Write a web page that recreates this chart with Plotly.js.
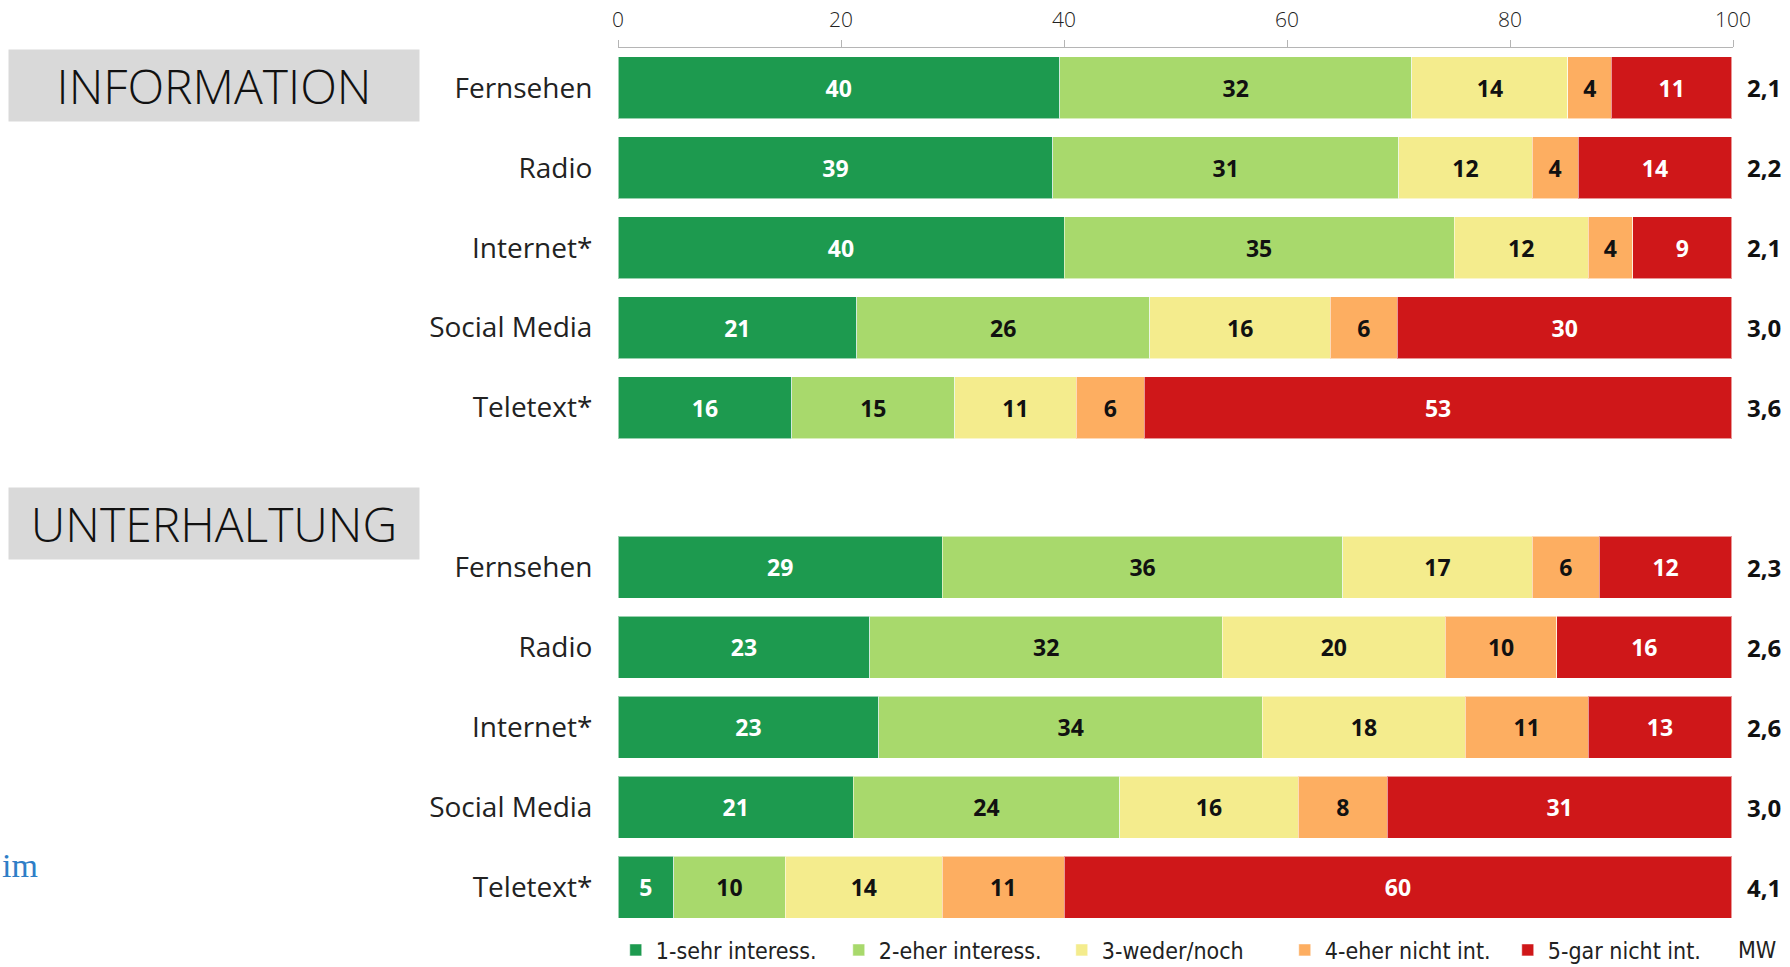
<!DOCTYPE html>
<html>
<head>
<meta charset="utf-8">
<script src="https://cdn.plot.ly/plotly-3.0.1.min.js"></script>
<style>html,body{margin:0;padding:0;background:#fff;}#chart{width:1790px;height:967px;}</style>
</head>
<body>
<div id="chart"></div>
<script>
// Categories (same five media in both sections)
const media = ["Fernsehen", "Radio", "Internet*", "Social Media", "Teletext*"];
const sections = ["INFORMATION", "UNTERHALTUNG"];
const seriesNames = ["1-sehr interess.", "2-eher interess.", "3-weder/noch", "4-eher nicht int.", "5-gar nicht int."];
const seriesColors = ["#1d9a4f", "#a8d96c", "#f4ec8d", "#fdae61", "#cf1719"];
const textColors = ["#ffffff", "#111111", "#111111", "#111111", "#ffffff"];

// INFORMATION shares (%)
const info1 = [39.6, 39.0, 40.0, 21.4, 15.6];
const info2 = [31.6, 31.0, 35.0, 26.3, 14.6];
const info3 = [14.0, 12.0, 12.0, 16.2, 10.9];
const info4 = [3.9, 4.1, 4.0, 6.0, 6.1];
const info5 = [10.8, 13.8, 8.9, 30.0, 52.7];
const infoMW = ["2,1", "2,2", "2,1", "3,0", "3,6"];

// UNTERHALTUNG shares (%)
const unt1 = [29.1, 22.6, 23.4, 21.1, 5.0];
const unt2 = [35.9, 31.6, 34.4, 23.9, 10.0];
const unt3 = [17.0, 20.0, 18.2, 16.0, 14.1];
const unt4 = [6.0, 10.0, 11.0, 8.0, 10.9];
const unt5 = [11.9, 15.7, 12.9, 30.9, 59.9];
const untMW = ["2,3", "2,6", "2,6", "3,0", "4,1"];

const xTicks = [0, 20, 40, 60, 80, 100];

const infoSeries = [info1, info2, info3, info4, info5];
const untSeries = [unt1, unt2, unt3, unt4, unt5];

const traces = [];
function addSection(series, yaxis, showLegend) {
  series.forEach((vals, i) => {
    traces.push({
      type: "bar",
      orientation: "h",
      x: vals,
      y: media,
      yaxis: yaxis,
      xaxis: "x",
      name: seriesNames[i],
      legendgroup: "s" + i,
      showlegend: showLegend,
      marker: { color: seriesColors[i], line: { color: "rgba(255,255,255,0.55)", width: 1 } },
      texttemplate: "%{x:.0f}",
      textposition: "inside",
      insidetextanchor: "middle",
      textangle: 0,
      constraintext: "none",
      textfont: { family: "Open Sans, sans-serif", size: 23, color: textColors[i], weight: 700 },
      hoverinfo: "skip",
      cliponaxis: false
    });
  });
}
addSection(infoSeries, "y", true);
addSection(untSeries, "y2", false);

const annotations = [];
media.forEach((m, i) => {
  annotations.push({ xref: "paper", yref: "y", x: 1, xshift: 12, y: m, xanchor: "left", yanchor: "middle",
    text: infoMW[i], showarrow: false, font: { family: "Open Sans, sans-serif", size: 24, color: "#111", weight: 700 } });
  annotations.push({ xref: "paper", yref: "y2", x: 1, xshift: 12, y: m, xanchor: "left", yanchor: "middle",
    text: untMW[i], showarrow: false, font: { family: "Open Sans, sans-serif", size: 24, color: "#111", weight: 700 } });
});
// section headers
const headerY = [0.9573, 0.4596];
sections.forEach((s, i) => {
  annotations.push({ xref: "paper", yref: "paper", x: -0.547, y: headerY[i], xanchor: "left", yanchor: "middle",
    width: 410, height: 71, bgcolor: "#d9d9d9", borderpad: 0, align: "center", valign: "middle",
    text: s, showarrow: false, font: { family: "Open Sans, sans-serif", size: 48, color: "#111", weight: 300 } });
});
annotations.push({ xref: "paper", yref: "paper", x: 1.0027, y: -0.0262, xanchor: "left", yanchor: "middle",
  text: "MW", showarrow: false, font: { family: "Liberation Sans Narrow, DejaVu Sans Condensed, sans-serif", size: 23, color: "#222" } });
annotations.push({ xref: "paper", yref: "paper", x: -0.554, y: 0.0694, xanchor: "left", yanchor: "middle",
  text: "im", showarrow: false, font: { family: "Liberation Serif, DejaVu Serif, serif", size: 34, color: "#2e7ec7" } });

const layout = {
  width: 1790, height: 967,
  margin: { l: 618, r: 57, t: 48, b: 40, pad: 0, autoexpand: false },
  paper_bgcolor: "#ffffff", plot_bgcolor: "#ffffff",
  barmode: "stack",
  bargap: 0.225,
  showlegend: true,
  legend: {
    orientation: "h", xref: "container", yref: "container", x: 0.344, xanchor: "left", y: 0.0176, yanchor: "middle",
    font: { family: "Liberation Sans Narrow, DejaVu Sans Condensed, sans-serif", size: 23, color: "#222" },
    traceorder: "normal", itemclick: false, bgcolor: "rgba(0,0,0,0)", itemwidth: 30, tracegroupgap: 0,
    entrywidth: 178, entrywidthmode: "pixels"
  },
  xaxis: {
    side: "top", anchor: "y", range: [0, 100], fixedrange: true,
    tickvals: xTicks, ticktext: xTicks.map(String),
    showgrid: false, zeroline: false, showline: true, linecolor: "#b5b5b5", linewidth: 1,
    ticks: "outside", ticklen: 7, tickcolor: "#b5b5b5", ticklabelstandoff: 5,
    tickfont: { family: "Open Sans, sans-serif", size: 21, color: "#222", weight: 300 }
  },
  yaxis: {
    domain: [0.5455, 1], type: "category", autorange: "reversed", categoryorder: "array", categoryarray: media,
    showgrid: false, zeroline: false, showline: false,
    ticks: "outside", ticklen: 19, tickcolor: "rgba(0,0,0,0)",
    tickfont: { family: "Open Sans, sans-serif", size: 28, color: "#222" }
  },
  yaxis2: {
    domain: [0, 0.4545], anchor: "x", type: "category", autorange: "reversed", categoryorder: "array", categoryarray: media,
    showgrid: false, zeroline: false, showline: false,
    ticks: "outside", ticklen: 19, tickcolor: "rgba(0,0,0,0)",
    tickfont: { family: "Open Sans, sans-serif", size: 28, color: "#222" }
  },
  annotations: annotations
};

Plotly.newPlot("chart", traces, layout, { displayModeBar: false, staticPlot: true });
</script>
</body>
</html>
